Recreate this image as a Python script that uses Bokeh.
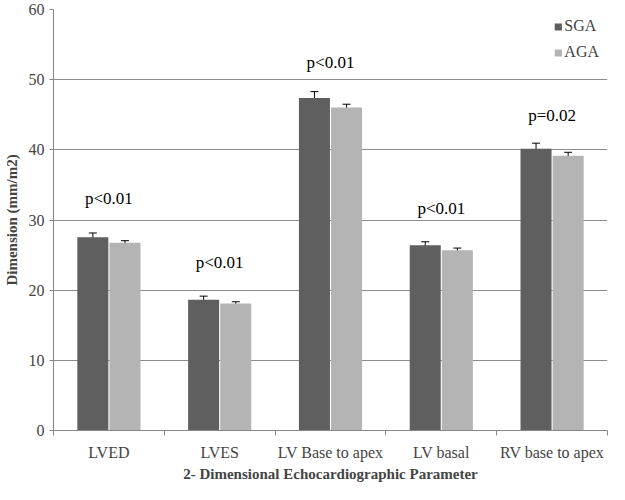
from bokeh.plotting import figure
from bokeh.models import ColumnDataSource, FixedTicker, Whisker, TeeHead, Legend, LegendItem, Range1d
from bokeh.core.properties import value
from bokeh.embed import file_html
from bokeh.resources import INLINE

categories = ["LVED", "LVES", "LV Base to apex", "LV basal", "RV base to apex"]
sga = [27.55, 18.65, 47.4, 26.4, 40.15]
sga_err = [0.6, 0.5, 0.9, 0.5, 0.8]
aga = [26.75, 18.1, 46.05, 25.7, 39.15]
aga_err = [0.3, 0.25, 0.45, 0.3, 0.5]
p_labels = ["p<0.01", "p<0.01", "p<0.01", "p<0.01", "p=0.02"]
p_y = [33.0, 24.0, 52.4, 31.6, 44.9]
y_ticks = [0, 10, 20, 30, 40, 50, 60]

FONT = "Liberation Serif"
SGA_COLOR = "#5f5f5f"
AGA_COLOR = "#b4b4b4"

n = len(categories)
centers = [i + 0.5 for i in range(n)]
bw = 0.28
x_sga = [c - bw / 2 - 0.005 for c in centers]
x_aga = [c + bw / 2 + 0.005 for c in centers]

p = figure(width=609, height=484, output_backend="svg", toolbar_location=None,
           x_range=Range1d(0, n), y_range=Range1d(0, 60),
           min_border_top=9, min_border_right=2, min_border_left=10, min_border_bottom=0)
p.outline_line_color = None
p.background_fill_color = "white"

src_s = ColumnDataSource(dict(x=x_sga, top=sga, lo=[v - e for v, e in zip(sga, sga_err)], hi=[v + e for v, e in zip(sga, sga_err)]))
src_a = ColumnDataSource(dict(x=x_aga, top=aga, lo=[v - e for v, e in zip(aga, aga_err)], hi=[v + e for v, e in zip(aga, aga_err)]))

r_s = p.vbar(x="x", top="top", width=bw, bottom=0, source=src_s, fill_color=SGA_COLOR, line_color=None)
r_a = p.vbar(x="x", top="top", width=bw, bottom=0, source=src_a, fill_color=AGA_COLOR, line_color=None)

for src in (src_s, src_a):
    w = Whisker(base="x", lower="lo", upper="hi", source=src, line_color="black", line_width=1,
                lower_head=TeeHead(size=8, line_color="black", line_width=1),
                upper_head=TeeHead(size=8, line_color="black", line_width=1))
    p.add_layout(w)

p.text(x=centers, y=p_y, text=p_labels, text_align="center", text_baseline="middle",
       text_font=value(FONT), text_font_size="17px", text_color="black")

# axes
p.xaxis.ticker = FixedTicker(ticks=centers, minor_ticks=list(range(n + 1)))
p.xaxis.major_label_overrides = {c: cat for c, cat in zip(centers, categories)}
p.xaxis.major_tick_line_color = None
p.xaxis.minor_tick_out = 5
p.xaxis.minor_tick_in = 0
p.xaxis.minor_tick_line_color = "#888888"
p.xaxis.axis_line_color = "#888888"
p.xaxis.major_label_text_font = FONT
p.xaxis.major_label_text_font_size = "16px"
p.xaxis.major_label_standoff = 7
p.xaxis.axis_label = "2- Dimensional Echocardiographic Parameter"
p.xaxis.axis_label_text_font = FONT
p.xaxis.axis_label_text_font_style = "bold"
p.xaxis.axis_label_text_font_size = "15px"
p.xaxis.axis_label_standoff = 2

p.yaxis.ticker = FixedTicker(ticks=y_ticks)
p.yaxis.major_tick_out = 4
p.yaxis.major_tick_in = 0
p.yaxis.minor_tick_line_color = None
p.yaxis.major_tick_line_color = "#888888"
p.yaxis.axis_line_color = "#888888"
p.yaxis.major_label_text_font = FONT
p.yaxis.major_label_text_font_size = "16px"
p.yaxis.axis_label = "Dimension (mm/m2)"
p.yaxis.axis_label_text_font = FONT
p.yaxis.axis_label_text_font_style = "bold"
p.yaxis.axis_label_text_font_size = "15px"
p.yaxis.axis_label_standoff = 6

p.xgrid.grid_line_color = None
p.ygrid.ticker = FixedTicker(ticks=y_ticks)
p.ygrid.grid_line_color = "#8c8c8c"
p.ygrid.grid_line_width = 1

legend = Legend(items=[LegendItem(label="SGA", renderers=[r_s]), LegendItem(label="AGA", renderers=[r_a])],
                location="top_right", border_line_color=None, background_fill_alpha=0,
                label_text_font=FONT, label_text_font_size="16px", glyph_width=9, glyph_height=9,
                spacing=8, label_standoff=2, margin=8, padding=5)
p.add_layout(legend)

open("out.html", "w").write(file_html(p, INLINE))
